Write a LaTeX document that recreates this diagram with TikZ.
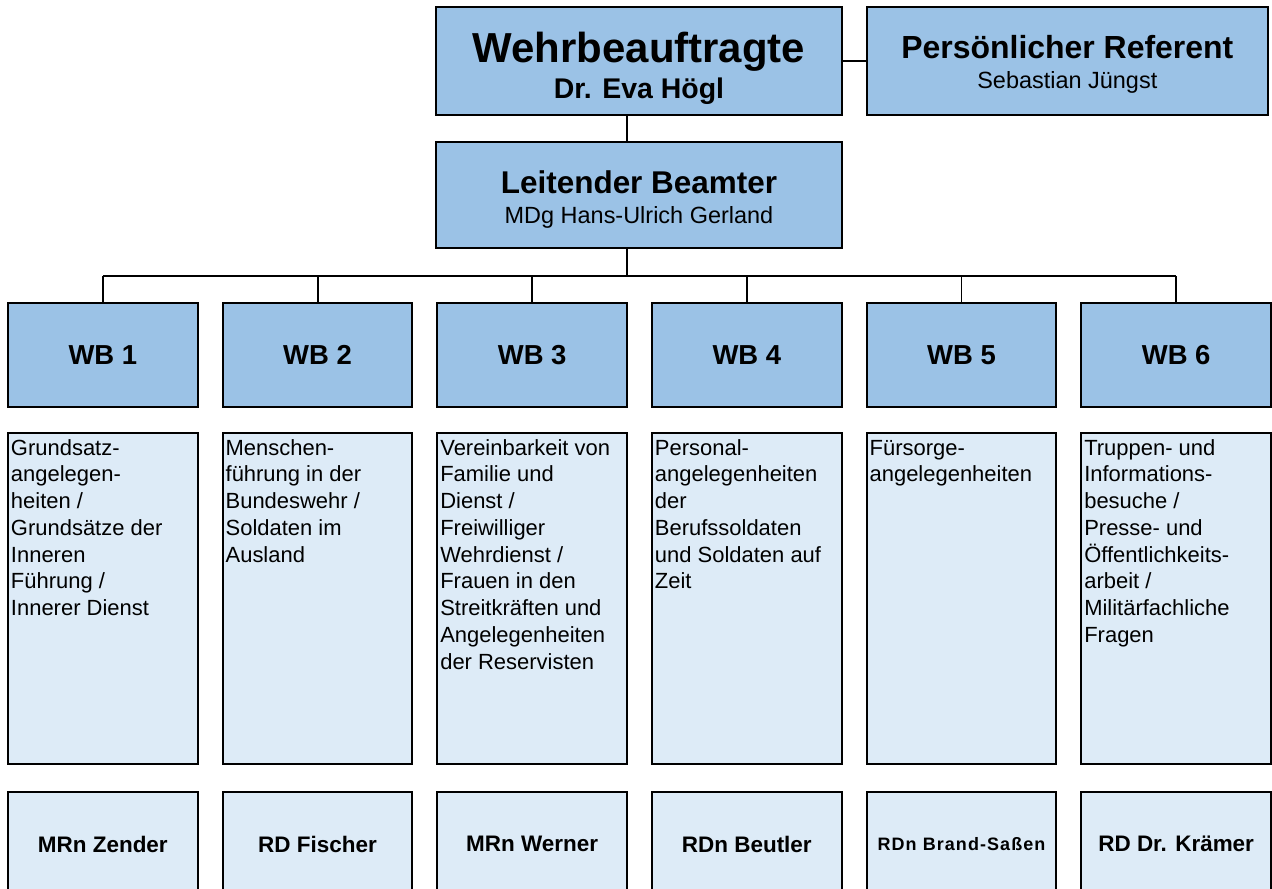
\documentclass[tikz,border=0pt]{standalone}
\usepackage{fontspec}
\setmainfont{Liberation Sans}
\usetikzlibrary{positioning, calc}
\definecolor{wbblue}{RGB}{155,194,230}
\definecolor{wblight}{RGB}{221,235,247}
\newcommand{\wbtasks}[1]{\parbox[t][325pt][t]{184pt}{\fontsize{22}{26.8}\selectfont\raggedright\strut #1}}

\begin{document}
\begin{tikzpicture}[x=1pt, y=-1pt,
  orgbox/.style={draw=black, line width=2pt, fill=wbblue, inner sep=0pt, align=center},
  topbox/.style={orgbox, minimum height=108pt},
  unitbox/.style={orgbox, minimum width=190pt, minimum height=105pt, font=\fontsize{27.5}{30}\selectfont\bfseries},
  taskbox/.style={draw=black, line width=2pt, fill=wblight, inner sep=3pt, anchor=north},
  namebox/.style={draw=black, line width=2pt, fill=wblight, minimum width=190pt, minimum height=105pt, inner sep=0pt, font=\fontsize{22.5}{26}\selectfont\bfseries},
  link/.style={draw=black, line width=2pt}
]
\useasboundingbox (0,0) rectangle (1274,890);

% Leitung
\node[topbox, minimum width=406pt, font=\fontsize{28.5}{36}\selectfont\bfseries] (chief) at (640,61)
  {{\fontsize{42}{36}\selectfont\rule{0pt}{45pt}Wehrbeauftragte}\\Dr. Eva Högl};
\node[topbox, minimum width=402pt, font=\fontsize{23.5}{30}\selectfont] (aide) at (1069,61)
  {{\fontsize{32}{30}\selectfont\bfseries\rule{0pt}{29.5pt}Persönlicher Referent}\\Sebastian Jüngst};
\node[topbox, minimum width=406pt, minimum height=106pt, font=\fontsize{23.5}{30}\selectfont] (head) at (640,195)
  {{\fontsize{31.5}{30}\selectfont\bfseries\rule{0pt}{32pt}Leitender Beamter}\\MDg Hans-Ulrich Gerland};

\coordinate (spine) at (628,276);

% Referate
\foreach \i/\who in {1/MRn Zender, 2/RD Fischer, 3/MRn Werner, 4/RDn Beutler,
    5/{\fontsize{18}{20}\selectfont\addfontfeature{LetterSpace=6}RDn Brand-Saßen}, 6/RD Dr. Krämer} {
  \node[unitbox] (wb\i) at ({103+215*(\i-1)},355.5) {WB \i};
  \node[namebox] (name\i) at ({103+215*(\i-1)},845.5) {\who};
}

\node[taskbox] (task1) at (103,433) {\wbtasks{Grundsatz-\\angelegen-\\heiten /\\Grundsätze der\\Inneren\\Führung /\\Innerer Dienst}};
\node[taskbox] (task2) at (318,433) {\wbtasks{Menschen-\\führung in der\\Bundeswehr /\\Soldaten im\\Ausland}};
\node[taskbox] (task3) at (533,433) {\wbtasks{Vereinbarkeit von\\Familie und\\Dienst /\\Freiwilliger\\Wehrdienst /\\Frauen in den\\Streitkräften und\\Angelegenheiten\\der Reservisten}};
\node[taskbox] (task4) at (748,433) {\wbtasks{Personal-\\angelegenheiten\\der\\Berufssoldaten\\und Soldaten auf\\Zeit}};
\node[taskbox] (task5) at (963,433) {\wbtasks{Fürsorge-\\angelegenheiten}};
\node[taskbox] (task6) at (1178,433) {\wbtasks{Truppen- und\\Informations-\\besuche /\\Presse- und\\Öffentlichkeits-\\arbeit /\\Militärfachliche\\Fragen}};

% Linien
\draw[link] (chief.east) -- (aide.west);
\draw[link] (chief.south -| spine) -- (head.north -| spine);
\draw[link] (head.south -| spine) -- (spine);
\draw[link] (wb1.north |- spine) -- (wb6.north |- spine);
\foreach \i in {1,...,6}
  \draw[link] (wb\i.north) -- (wb\i.north |- spine);
\end{tikzpicture}
\end{document}
